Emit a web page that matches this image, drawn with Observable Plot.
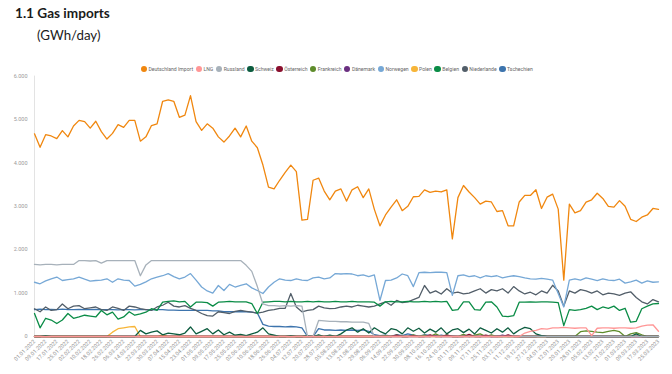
<!DOCTYPE html>
<html><head><meta charset="utf-8">
<script src="https://cdn.jsdelivr.net/npm/d3@7"></script>
<script src="https://cdn.jsdelivr.net/npm/@observablehq/plot@0.6"></script>
<style>
body{margin:0;width:672px;height:374px;position:relative;background:#fff;overflow:hidden;font-family:Lato,"Open Sans",sans-serif}
#title{position:absolute;left:15px;top:5px;font-weight:700;font-size:13.6px;color:#1b1b1b;white-space:nowrap}
#sub{position:absolute;left:37px;top:27px;font-size:13.3px;color:#1b1b1b;white-space:nowrap}
#legend{position:absolute;top:65.5px;left:2px;width:672px;display:flex;justify-content:center;align-items:center;font-family:Roboto,sans-serif;font-size:5.1px;color:#666;z-index:2}
.it{display:flex;align-items:center;margin-right:2.6px}
.dot{width:6.4px;height:6.4px;border-radius:50%;margin-right:1.4px}
#chart{position:absolute;left:0;top:60px}
</style></head>
<body>
<div id="title">1.1 Gas imports</div>
<div id="sub">(GWh/day)</div>
<div id="legend"></div>
<div id="chart"></div>
<script>
// ---- data (GWh/day), one value every STEP days from START ----
const START = "2022-01-01";
const END = "2023-03-25";
const STEP = 4;
const TICK_STEP = 8;
const yTicks = [0, 1000, 2000, 3000, 4000, 5000, 6000];

const names = ["Deutschland Import","LNG","Russland","Schweiz","Österreich","Frankreich","Dänemark","Norwegen","Polen","Belgien","Niederlande","Tschechien"];
const colors = ["#f0870f","#ff9696","#a7b1ba","#0c5c3f","#8a0f2e","#5e8c2b","#6a2f80","#76a8d6","#f7b538","#0a8c46","#525e69","#3d74ad"];

const deutschland = [
4670,4360,4650,4620,4560,4745,4600,4850,4980,4950,
4800,4960,4720,4550,4680,4880,4820,4980,4980,4500,
4600,4860,4900,5420,5450,5420,5050,5100,5550,4950,
4750,4900,4800,4600,4480,4620,4800,4600,4850,4500,
4350,3950,3440,3400,3600,3780,3950,3800,2680,2700,
3600,3650,3350,3150,3350,3400,3120,3380,3450,3200,
3400,2930,2550,2800,2980,3150,2900,3000,3220,3230,
3380,3320,3350,3330,3380,2250,3200,3480,3330,3200,
3050,3120,3100,2880,2900,2550,2550,3100,3250,3250,
3380,2950,3210,3280,2935,1300,3050,2850,2900,3095,
3150,3300,3180,3000,2980,3130,3000,2700,2650,2750,
2800,2950,2930];

const lng = [
0,0,0,0,0,0,0,0,0,0,
0,0,0,0,0,0,0,0,0,0,
0,0,0,0,0,0,0,0,0,0,
0,0,0,0,0,0,0,0,0,0,
0,0,0,0,0,0,0,0,0,0,
0,0,0,0,0,0,0,0,0,0,
0,0,0,0,0,0,0,0,0,0,
0,0,0,0,0,0,0,0,0,0,
0,0,0,0,0,0,0,0,80,120,
140,180,170,200,200,210,200,190,200,200,
20,190,200,200,190,200,200,190,200,240,
260,270,120];

const russland = [
1660,1650,1660,1660,1650,1660,1660,1660,1750,1750,
1740,1750,1690,1750,1750,1750,1750,1750,1750,1400,
1650,1750,1750,1750,1750,1750,1750,1750,1750,1750,
1750,1750,1750,1750,1750,1750,1750,1750,1640,1500,
1150,750,710,710,700,710,700,710,700,0,
0,370,360,350,350,340,340,330,330,330,
300,0,0,0,0,0,0,0,0,0,
0,0,0,0,0,0,0,0,0,0,
0,0,0,0,0,0,0,0,0,0,
0,0,0,0,0,0,0,0,0,0,
0,0,0,0,0,0,0,0,0,0,
0,0,0];

const schweiz = [
0,0,20,0,0,0,0,0,0,0,
0,0,0,0,0,0,0,0,0,140,
60,100,130,40,80,60,40,80,220,60,
120,180,60,150,40,100,30,50,20,60,
100,200,60,30,0,0,20,0,0,20,
0,40,0,30,0,60,150,200,100,180,
80,200,120,60,180,150,60,200,120,190,
80,170,100,200,60,150,180,90,170,60,
200,140,80,180,100,200,60,150,210,180,
60,20,0,0,0,0,0,0,0,0,
0,0,0,0,0,0,0,0,60,0,
0,0,0];

const oesterreich = [
0,0,0,0,0,0,0,0,0,0,
0,0,0,0,0,0,0,0,0,0,
0,0,0,0,0,0,0,0,0,0,
0,0,0,0,0,0,0,0,0,0,
0,0,0,0,0,0,0,0,0,0,
0,0,0,0,0,0,0,0,0,0,
0,0,0,0,0,30,0,0,20,0,
0,40,0,0,30,0,0,0,50,0,
0,30,0,0,0,40,0,0,0,0,
0,0,0,0,0,0,0,0,0,0,
0,0,0,0,0,0,0,0,0,0,
0,0,0];

const frankreich = [
0,0,0,0,0,0,0,0,0,0,
0,0,0,0,0,0,0,0,0,0,
0,0,0,0,0,0,0,0,0,0,
0,0,0,0,0,0,0,0,0,0,
0,0,0,0,0,0,0,0,0,0,
0,0,0,0,0,0,0,0,0,0,
0,0,0,20,0,30,0,0,40,0,
30,0,60,0,40,0,0,50,0,30,
60,0,40,0,0,0,0,0,0,0,
0,0,0,0,0,0,0,0,110,130,
120,100,90,120,140,110,0,60,90,40,
0,0,0];

const daenemark = [
0,0,0,0,0,0,0,0,0,0,
0,0,0,0,0,0,0,0,0,0,
0,0,0,0,0,0,0,0,0,0,
0,0,0,0,0,0,0,0,0,0,
0,0,0,0,0,0,0,0,0,0,
0,0,0,0,0,0,0,0,0,0,
0,0,0,0,0,0,0,0,0,0,
0,0,20,0,0,0,0,0,0,0,
0,0,0,0,30,0,0,0,0,0,
0,20,0,0,0,0,0,0,0,0,
0,0,0,0,0,0,0,0,0,0,
0,0,0];

const norwegen = [
1250,1215,1280,1330,1370,1290,1310,1330,1370,1320,
1275,1290,1300,1330,1250,1330,1300,1290,1160,1200,
1260,1330,1370,1400,1450,1380,1330,1370,1450,1300,
1140,1050,1000,1175,1060,1200,1140,1180,1215,1120,
1060,990,1140,1250,1330,1300,1290,1330,1300,1290,
1350,1370,1330,1350,1450,1440,1450,1440,1400,1420,
1380,1420,830,1290,1300,1350,1440,1400,1150,1470,
1480,1470,1480,1480,1470,950,1400,1420,1380,1400,
1350,1400,1380,1400,1350,1380,1400,1380,1350,1330,
1320,1340,1320,1300,990,680,1300,1330,1300,1350,
1320,1290,1330,1300,1290,1320,1230,1260,1300,1230,
1280,1250,1260];

const polen = [
0,0,0,0,0,0,0,0,0,0,
0,0,0,0,100,180,200,220,230,0,
0,0,0,40,0,0,0,0,0,0,
0,0,0,0,0,0,0,0,0,0,
0,0,0,0,0,0,0,0,0,0,
0,0,0,0,0,0,0,0,0,0,
0,0,0,0,0,0,0,0,0,0,
0,0,0,0,0,0,0,0,0,0,
0,0,0,0,0,0,0,0,0,0,
0,0,0,0,0,0,0,0,0,0,
0,0,0,0,0,0,0,0,0,0,
0,0,0];

const belgien = [
530,200,420,380,300,380,530,420,450,490,
470,450,600,500,560,400,450,570,490,520,
560,640,600,790,810,820,800,810,680,790,
790,780,700,790,800,810,800,800,800,760,
530,790,800,810,810,800,810,800,800,810,
800,810,800,800,810,800,800,810,800,800,
800,790,700,800,810,800,800,810,800,800,
810,800,810,800,810,600,620,800,800,620,
610,790,800,680,470,460,480,790,790,800,
790,800,800,790,780,250,620,600,620,650,
700,620,680,650,700,600,650,330,350,640,
700,750,760];

const niederlande = [
640,570,680,600,620,750,640,700,710,640,
660,680,620,600,680,650,600,700,680,640,
620,600,680,720,790,700,680,710,650,600,
530,480,470,570,550,530,580,600,580,560,
540,560,600,620,650,650,990,680,570,600,
620,700,660,640,650,680,700,680,720,700,
680,700,750,800,720,830,780,800,850,900,
1175,1000,1050,980,1100,1000,1020,980,1000,1050,
1100,1000,1080,1050,1100,1000,1150,1050,980,1020,
960,1050,1000,1180,1050,700,1050,1000,1080,1050,
1000,1050,960,1000,980,950,1000,1030,900,800,
750,850,800];

const tschechien = [
620,630,620,625,620,630,620,620,625,620,
620,625,620,620,620,615,620,620,615,620,
620,615,620,620,610,610,600,600,600,600,
600,600,590,590,570,570,570,570,570,560,
540,280,240,230,230,220,230,220,200,0,
0,180,150,150,140,150,140,150,140,150,
120,40,20,30,10,40,20,60,30,10,
40,20,0,30,10,20,0,30,0,20,
0,10,0,20,0,0,10,0,0,0,
0,0,0,0,0,0,0,0,0,0,
0,0,0,0,0,0,0,0,0,0,
0,0,0];

const seriesValues = [deutschland,lng,russland,schweiz,oesterreich,frankreich,daenemark,norwegen,polen,belgien,niederlande,tschechien];

// ---- build ----
const start = new Date(START + "T00:00:00Z");
const end = new Date(END + "T00:00:00Z");
const dates = deutschland.map((_, i) => d3.utcDay.offset(start, i * STEP));
const xTicks = d3.range(0, d3.utcDay.count(start, end) + 1, TICK_STEP).map(d => d3.utcDay.offset(start, d));
const de = d3.formatLocale({decimal: ",", thousands: ".", grouping: [3], currency: ["", " €"]});
const fmtY = de.format(",d");
const fmtX = d3.utcFormat("%d.%m.%Y");

const series = names.map((n, k) => ({name: n, color: colors[k], rows: seriesValues[k].map((v, i) => ({date: dates[i], value: v}))}));
const drawOrder = series.slice().reverse();

const plot = Plot.plot({
  width: 672, height: 314,
  marginLeft: 34, marginRight: 14, marginTop: 15.6, marginBottom: 38,
  style: {fontFamily: "Roboto, sans-serif", fontSize: "5.5px", color: "#9a9a9a", background: "transparent"},
  x: {type: "utc", domain: [start, end], axis: null, label: null},
  y: {domain: [0, 6000], axis: null, label: null},
  marks: [
    Plot.ruleX([start], {y1: 0, y2: 6000, stroke: "#e3e3e3", strokeWidth: 1}),
    Plot.axisY({ticks: yTicks, tickSize: 0, tickPadding: 7, tickFormat: fmtY, label: null}),
    Plot.axisX({ticks: xTicks, tickSize: 0, tickPadding: 4, tickRotate: -45, tickFormat: fmtX, label: null}),
    ...drawOrder.map(s => Plot.line(s.rows, {x: "date", y: "value", stroke: s.color, strokeWidth: 1.3}))
  ]
});
document.getElementById("chart").append(plot);

const lg = document.getElementById("legend");
names.forEach((n, k) => {
  const it = document.createElement("div"); it.className = "it";
  const d = document.createElement("span"); d.className = "dot"; d.style.background = colors[k];
  const t = document.createElement("span"); t.textContent = n;
  it.append(d, t); lg.append(it);
});
</script>
</body></html>
